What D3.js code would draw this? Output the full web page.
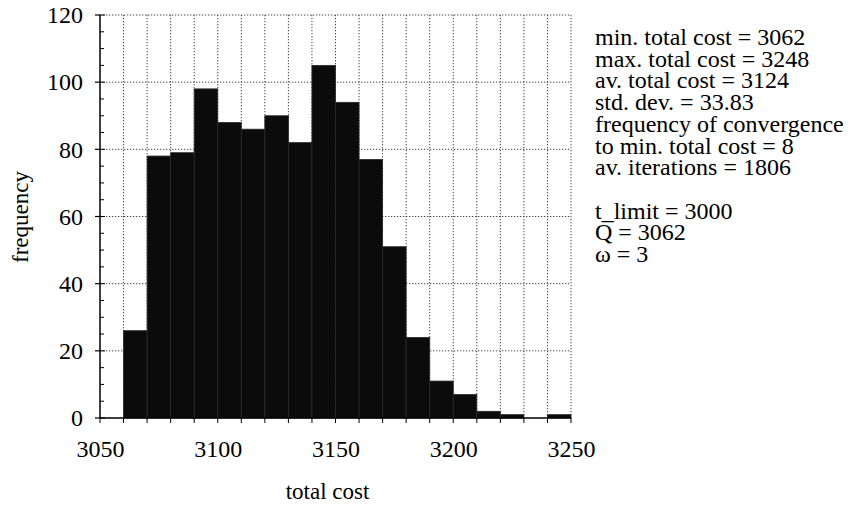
<!DOCTYPE html>
<html>
<head>
<meta charset="utf-8">
<script src="https://cdn.jsdelivr.net/npm/d3@7"></script>
</head>
<body style="margin:0; background:#fff">
<div id="chart"></div>
<script>
// histogram bins (lower edge of each 10-wide bin) and counts
var binStarts = [3060,3070,3080,3090,3100,3110,3120,3130,3140,3150,3160,3170,3180,3190,3200,3210,3220,3230,3240];
var counts    = [26,78,79,98,88,86,90,82,105,94,77,51,24,11,7,2,1,0,1];
var binWidth  = 10;

var xTicks = [3050,3100,3150,3200,3250];
var yTicks = [0,20,40,60,80,100,120];

var statsLines = [
    "min. total cost = 3062",
    "max. total cost = 3248",
    "av. total cost = 3124",
    "std. dev. = 33.83",
    "frequency of convergence",
    "to min. total cost = 8",
    "av. iterations = 1806",
    "",
    "t_limit = 3000",
    "Q = 3062",
    "\u03c9 = 3"
];

var serif = "Liberation Serif";

var svgW = 850, svgH = 506;
var margin = {left:100, top:15, right:279, bottom:88};
var width  = svgW - margin.left - margin.right;
var height = svgH - margin.top - margin.bottom;

var svg = d3.select("#chart").append("svg").attr("width", svgW).attr("height", svgH)
    .attr("font-family", serif);
var g = svg.append("g").attr("transform", "translate("+margin.left+","+margin.top+")");

var x = d3.scaleLinear().domain([3050,3250]).range([0,width]);
var y = d3.scaleLinear().domain([0,120]).range([height,0]);

// dotted grid
var gridStyle = function(sel){ sel.attr("stroke","#444").attr("stroke-width",1).attr("stroke-dasharray","1.3,1.7"); };

g.selectAll(".vgrid").data(d3.range(3060,3251,10)).enter().append("line")
    .attr("x1", function(d){return x(d);}).attr("x2", function(d){return x(d);})
    .attr("y1", 0).attr("y2", height).call(gridStyle);

g.selectAll(".hgrid").data(yTicks.slice(1)).enter().append("line")
    .attr("x1", 0).attr("x2", width)
    .attr("y1", function(d){return y(d);}).attr("y2", function(d){return y(d);})
    .call(gridStyle);

// bars
g.selectAll(".bar").data(counts).enter().append("rect")
    .attr("x", function(d,i){return x(binStarts[i]);})
    .attr("width", function(d,i){return x(binStarts[i]+binWidth) - x(binStarts[i]);})
    .attr("y", function(d){return y(d);})
    .attr("height", function(d){return height - y(d);})
    .attr("fill", "#0b0b0b")
    .attr("stroke", "#2a2a2a").attr("stroke-width", 0.8);

// axes
var yAxis = d3.axisLeft(y).tickValues(yTicks).tickSize(0).tickPadding(17).tickFormat(d3.format("d"));
var xAxis = d3.axisBottom(x).tickValues(xTicks).tickSize(0).tickPadding(22).tickFormat(d3.format("d"));

var yg = g.append("g").call(yAxis);
var xg = g.append("g").attr("transform","translate(0,"+height+")").call(xAxis);
yg.select(".domain").remove();
xg.select(".domain").remove();
yg.attr("font-family", serif).attr("font-size", 24);
xg.attr("font-family", serif).attr("font-size", 24);
yg.selectAll("text").attr("font-family", serif).attr("font-size", 24).attr("fill", "#000");
xg.selectAll("text").attr("font-family", serif).attr("font-size", 24).attr("fill", "#000");

// minor ticks on y (every 5, inside)
g.selectAll(".ymin").data(d3.range(0,121,5)).enter().append("line")
    .attr("x1", 0).attr("x2", function(d){return d % 20 === 0 ? 5 : 4;})
    .attr("y1", function(d){return y(d);}).attr("y2", function(d){return y(d);})
    .attr("stroke","#000").attr("stroke-width",1);
// major y ticks outside
g.selectAll(".ymaj").data(yTicks).enter().append("line")
    .attr("x1", -5).attr("x2", 0)
    .attr("y1", function(d){return y(d);}).attr("y2", function(d){return y(d);})
    .attr("stroke","#000").attr("stroke-width",1.2);
// x ticks every 10, below
g.selectAll(".xt").data(d3.range(3050,3251,10)).enter().append("line")
    .attr("x1", function(d){return x(d);}).attr("x2", function(d){return x(d);})
    .attr("y1", height).attr("y2", height+5)
    .attr("stroke","#000").attr("stroke-width",1);

g.append("line").attr("x1",0).attr("x2",0).attr("y1",0).attr("y2",height).attr("stroke","#000").attr("stroke-width",1.5);
g.append("line").attr("x1",0).attr("x2",width).attr("y1",height).attr("y2",height).attr("stroke","#000").attr("stroke-width",1.5);

// axis titles
svg.append("text").attr("x", margin.left + width/2 - 8).attr("y", 499)
    .attr("text-anchor","middle").attr("font-family", serif).attr("font-size",23).text("total cost");
svg.append("text").attr("transform","translate(28,217) rotate(-90)")
    .attr("text-anchor","middle").attr("font-family", serif).attr("font-size",23).text("frequency");

// stats block
svg.append("g").selectAll("text").data(statsLines).enter().append("text")
    .attr("x", 595).attr("y", function(d,i){return 45 + i*21.7;})
    .attr("font-family", serif).attr("font-size",24).text(function(d){return d;});
</script>
</body>
</html>
